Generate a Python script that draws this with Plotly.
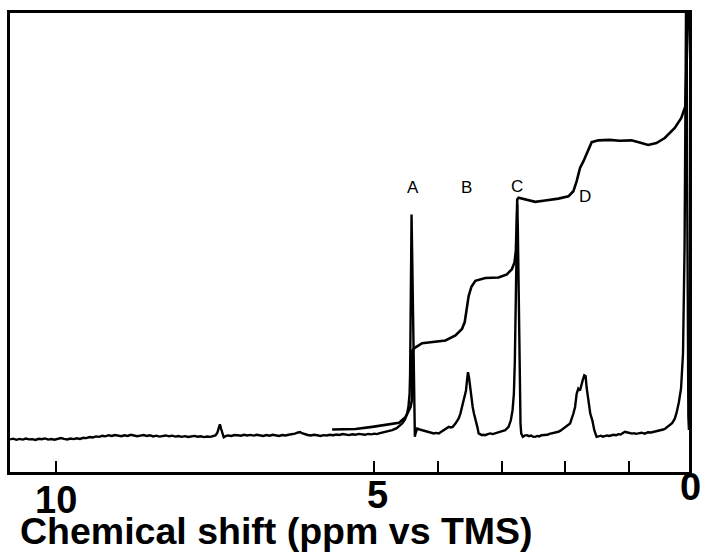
import plotly.graph_objects as go

# ---- data (ppm vs TMS, intensity in arbitrary units) ----
spec_ppm = [
    10.73, 10.68, 10.63, 10.58, 10.53, 10.48, 10.43, 10.38, 10.33, 10.28,
    10.23, 10.18, 10.13, 10.08, 10.03, 9.98, 9.93, 9.88, 9.83, 9.78,
    9.73, 9.68, 9.63, 9.58, 9.53, 9.48, 9.43, 9.38, 9.33, 9.28,
    9.23, 9.18, 9.13, 9.08, 9.03, 8.98, 8.93, 8.88, 8.83, 8.78,
    8.73, 8.68, 8.63, 8.58, 8.53, 8.48, 8.43, 8.38, 8.33, 8.28,
    8.23, 8.18, 8.13, 8.08, 8.03, 7.98, 7.93, 7.88, 7.83, 7.78,
    7.73, 7.68, 7.63, 7.58, 7.53, 7.50, 7.47, 7.45, 7.43, 7.41,
    7.39, 7.37, 7.34, 7.30, 7.25, 7.20, 7.15, 7.10, 7.05, 7.00,
    6.95, 6.90, 6.85, 6.80, 6.75, 6.70, 6.65, 6.60, 6.55, 6.50,
    6.45, 6.40, 6.35, 6.30, 6.25, 6.20, 6.17, 6.14, 6.10, 6.05,
    6.00, 5.95, 5.90, 5.85, 5.80, 5.75, 5.70, 5.65, 5.60, 5.55,
    5.50, 5.45, 5.40, 5.35, 5.30, 5.25, 5.20, 5.15, 5.10, 5.05,
    5.00, 4.96, 4.929, 4.85, 4.78, 4.721, 4.65, 4.60, 4.564, 4.52,
    4.486, 4.465, 4.448, 4.440, 4.433, 4.425, 4.417, 4.409, 4.401, 4.392,
    4.384, 4.376, 4.370, 4.365, 4.355, 4.345, 4.329, 4.29, 4.251, 4.20,
    4.146, 4.10, 4.067, 4.03, 3.989, 3.95, 3.911, 3.87, 3.832, 3.80,
    3.770, 3.727, 3.676, 3.649, 3.613, 3.581, 3.561, 3.545, 3.530, 3.514,
    3.498, 3.477, 3.456, 3.436, 3.404, 3.383, 3.362, 3.335, 3.310, 3.285,
    3.257, 3.22, 3.179, 3.14, 3.100, 3.06, 3.022, 2.98, 2.944, 2.892,
    2.856, 2.829, 2.808, 2.793, 2.777, 2.766, 2.755, 2.746, 2.735, 2.724,
    2.715, 2.704, 2.693, 2.668, 2.64, 2.605, 2.57, 2.54, 2.51, 2.473,
    2.44, 2.41, 2.375, 2.343, 2.31, 2.28, 2.25, 2.213, 2.18, 2.15,
    2.108, 2.07, 2.035, 2.003, 1.96, 1.925, 1.873, 1.846, 1.821, 1.795,
    1.768, 1.752, 1.727, 1.701, 1.680, 1.665, 1.649, 1.627, 1.607, 1.575,
    1.544, 1.508, 1.47, 1.44, 1.41, 1.376, 1.34, 1.31, 1.273, 1.24,
    1.20, 1.168, 1.13, 1.10, 1.063, 1.02, 0.984, 0.95, 0.92, 0.89,
    0.854, 0.80, 0.75, 0.70, 0.65, 0.60, 0.55, 0.50, 0.46, 0.431,
    0.38, 0.321, 0.28, 0.251, 0.215, 0.180, 0.149, 0.125, 0.111, 0.102,
    0.095, 0.085, 0.075, 0.065, 0.056,
]
spec_int = [
    -0.05, 0.10, -0.15, 0.05, -0.10, 0.12, -0.05, 0.00, -0.18, 0.08,
    -0.02, 0.15, -0.10, 0.02, -0.12, 0.10, 0.25, 0.05, -0.08, 0.12,
    0.00, 0.18, 0.05, 0.30, 0.22, 0.45, 0.35, 0.60, 0.50, 0.72,
    0.60, 0.85, 0.70, 0.90, 0.75, 0.65, 0.85, 0.70, 0.95, 0.80,
    0.62, 0.78, 0.90, 0.70, 0.85, 0.60, 0.75, 0.55, 0.70, 0.80,
    0.62, 0.75, 0.55, 0.68, 0.50, 0.65, 0.48, 0.60, 0.70, 0.52,
    0.62, 0.45, 0.58, 0.50, 0.65, 0.80, 1.40, 2.30, 3.25, 2.20,
    1.10, 0.40, 0.65, 0.80, 0.70, 0.90, 0.85, 0.75, 0.95, 0.80,
    0.92, 0.78, 0.95, 0.85, 0.70, 0.88, 0.75, 0.95, 0.82, 0.70,
    0.90, 0.80, 0.95, 1.05, 1.20, 1.45, 1.55, 1.30, 1.05, 0.90,
    0.80, 0.95, 0.85, 0.70, 0.88, 0.80, 0.95, 0.85, 1.00, 0.90,
    1.10, 1.00, 0.88, 1.05, 0.95, 1.15, 1.05, 0.95, 1.15, 1.05,
    1.20, 1.10, 1.24, 1.50, 1.70, 1.95, 2.40, 2.90, 3.40, 4.30,
    5.57, 7.20, 9.90, 14.0, 24.4, 38.0, 48.96, 42.0, 35.2, 24.4,
    15.0, 9.90, 4.00, 0.50, 1.20, 1.95, 2.30, 2.10, 1.95, 1.75,
    1.60, 1.40, 1.24, 1.35, 1.24, 1.60, 1.95, 2.30, 2.67, 2.55,
    2.67, 3.40, 4.50, 5.57, 7.74, 9.50, 10.6, 12.8, 14.6, 13.5,
    11.3, 9.90, 7.00, 5.57, 4.10, 2.67, 1.24, 1.05, 0.87, 0.95,
    0.87, 1.10, 1.24, 1.10, 1.24, 1.45, 1.60, 1.75, 1.95, 2.67,
    4.10, 6.30, 9.90, 17.1, 31.6, 46.05, 51.1, 46.05, 35.2, 20.8,
    9.90, 3.40, 1.24, 0.50, 0.75, 0.87, 0.65, 0.80, 0.55, 0.50,
    0.70, 0.60, 0.85, 0.87, 1.00, 0.95, 1.15, 1.24, 1.35, 1.45,
    1.60, 1.90, 2.30, 2.67, 3.00, 3.40, 5.57, 7.00, 9.90, 11.0,
    10.6, 11.7, 12.8, 13.9, 13.7, 11.3, 9.90, 7.00, 5.57, 4.10,
    1.95, 0.50, 0.60, 0.75, 0.55, 0.65, 0.80, 0.70, 0.87, 0.95,
    0.85, 1.08, 1.00, 1.20, 1.60, 1.45, 1.37, 1.20, 1.30, 1.15,
    1.24, 1.40, 1.20, 1.50, 1.45, 1.60, 1.70, 1.90, 2.10, 2.26,
    2.80, 3.47, 4.40, 5.70, 8.00, 11.06, 18.7, 41.6, 72.2, 92.8,
    110.0, 60.0, 20.0, 5.0, 2.0,
]

integ_ppm = [
    5.666, 5.30, 5.034, 4.824, 4.616, 4.511, 4.433, 4.412, 4.404, 4.381,
    4.354, 4.251, 4.094, 3.884, 3.727, 3.624, 3.581, 3.561, 3.539, 3.519,
    3.476, 3.414, 3.257, 3.049, 2.918, 2.840, 2.798, 2.777, 2.766, 2.755,
    2.735, 2.630, 2.473, 2.317, 2.108, 1.951, 1.873, 1.821, 1.768, 1.716,
    1.655, 1.585, 1.481, 1.30, 1.15, 0.959, 0.803, 0.697, 0.567, 0.436,
    0.279, 0.176, 0.113, 0.086, 0.070, 0.063,
]
integ_val = [
    2.10, 2.20, 2.67, 3.04, 3.54, 4.84, 7.00, 8.46, 19.3, 19.7,
    20.0, 20.9, 21.1, 21.5, 22.6, 24.0, 25.5, 27.3, 29.5, 31.2,
    33.2, 34.5, 35.1, 35.2, 35.9, 37.0, 38.5, 41.0, 46.05, 52.2,
    52.6, 52.2, 51.7, 52.0, 52.4, 52.9, 54.0, 56.2, 59.1, 60.5,
    62.4, 64.7, 65.1, 65.2, 65.0, 65.1, 64.5, 64.1, 64.5, 65.6,
    67.8, 70.0, 72.5, 84.4, 92.8, 95.2,
]

peak_names = ["A", "B", "C", "D"]
peak_name_ppm = [4.397, 3.550, 2.759, 1.693]
peak_name_y = [54.9, 54.9, 55.1, 52.9]

tick_ppm = [10, 5, 4, 3, 2, 1]
tick_label_text = ["10", "5", "0"]

x_title = "Chemical shift (ppm vs TMS)"

# ---- figure ----
fig = go.Figure()
fig.add_trace(go.Scatter(
    x=spec_ppm, y=spec_int, mode="lines",
    line=dict(color="black", width=2.4),
    hoverinfo="skip", showlegend=False,
))
fig.add_trace(go.Scatter(
    x=integ_ppm, y=integ_val, mode="lines",
    line=dict(color="black", width=2.6),
    hoverinfo="skip", showlegend=False,
))

annotations = []
for name, px_, py_ in zip(peak_names, peak_name_ppm, peak_name_y):
    annotations.append(dict(
        x=px_, y=py_, xref="x", yref="y", text=name, showarrow=False,
        font=dict(family="Liberation Sans, Arial, sans-serif", size=17, color="black"),
        xanchor="center", yanchor="middle",
    ))

# tick labels (staggered as in the scanned original), placed in paper coordinates
tick_label_pos = [(0.0673, -0.0610), (0.5419, -0.0505), (1.0015, -0.0320)]
for txt, (xp, yp) in zip(tick_label_text, tick_label_pos):
    annotations.append(dict(
        x=xp, y=yp, xref="paper", yref="paper", text=txt, showarrow=False,
        font=dict(family="Liberation Sans Narrow, Liberation Sans, Arial, sans-serif",
                  size=38, color="black", weight="bold"),
        xanchor="center", yanchor="middle",
    ))
annotations.append(dict(
    x=0.392, y=-0.1275, xref="paper", yref="paper", text=x_title, showarrow=False,
    font=dict(family="Liberation Sans, Arial, sans-serif", size=37.5, color="black", weight="bold"),
    xanchor="center", yanchor="middle",
))

fig.update_layout(
    width=702, height=553,
    margin=dict(l=10, r=11, t=11, b=81),
    paper_bgcolor="white", plot_bgcolor="white",
    annotations=annotations,
    showlegend=False,
)
fig.update_xaxes(
    range=[10.73, 0.055], showline=True, mirror=True, linecolor="black", linewidth=2.5,
    ticks="inside", tickvals=tick_ppm, ticklen=11, tickwidth=1.5, tickcolor="black",
    showticklabels=False, showgrid=False, zeroline=False,
)
fig.update_yaxes(
    range=[-7.16, 92.84], showline=True, mirror=True, linecolor="black", linewidth=2.5,
    ticks="", showticklabels=False, showgrid=False, zeroline=False,
)

fig.write_html(
    "out.html",
    config={"displayModeBar": False},
    post_script="document.body.style.margin='0px';document.body.style.overflow='hidden';",
)
